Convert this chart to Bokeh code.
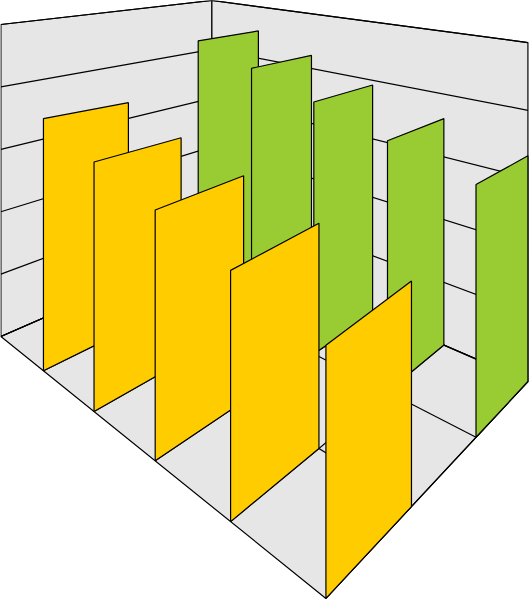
from bokeh.embed import file_html
from bokeh.models import Range1d
from bokeh.plotting import figure
from bokeh.resources import INLINE

# Chart values (no axis labels are drawn in the reference)
categories = [1, 2, 3, 4, 5]
yellow_values = [3.75, 3.42, 3.14, 2.84, 2.55]
green_values = [4.53, 4.24, 3.92, 3.61, 3.33]
value_ticks = [0, 1, 2, 3, 4, 5]
n_categories = 5
depth_edges = [0, 1 / 3, 0.663, 1]

YELLOW = "#FFCC00"
GREEN = "#99CC33"
WALL = "#E6E6E6"
EDGE = "#000000"
LINE_W = 1.2


def project(cat, depth, val):
    """Perspective view of the chart box: cat 0-5, depth 0-1 (front to back), val 0-5."""
    a = cat / n_categories
    w = 1 - 0.3976 * a + 0.2826 * depth
    x = (195.4 * a + 270.9 * depth + 1) / w
    bend = (3.2 * a - 1.4) * 13.5 * depth * (depth - 0.663) * (depth - 1)
    y = (24.2 * a - 23.0 * depth + 336 - val * (62.4 - 2.6 * a + 0.2 * depth + bend)) / w
    return x, y


def panel(cat, d0, d1, val):
    pts = [project(cat, d0, 0), project(cat, d1, 0), project(cat, d1, val), project(cat, d0, val)]
    return [q[0] for q in pts], [q[1] for q in pts]


def seg(p0, p1):
    return [p0[0], p1[0]], [p0[1], p1[1]]


top = value_ticks[-1]

p = figure(width=530, height=600, output_backend="svg", toolbar_location=None,
           x_range=Range1d(0.6, 530.6), y_range=Range1d(600, 0),
           min_border=0, outline_line_color=None, background_fill_color="white",
           margin=(0, 0, 0, 0))
p.axis.visible = False
p.grid.visible = False

# Walls and floor
quads = [
    [(0, 0, 0), (0, 1, 0), (0, 1, top), (0, 0, top)],
    [(0, 1, 0), (n_categories, 1, 0), (n_categories, 1, top), (0, 1, top)],
    [(0, 0, 0), (n_categories, 0, 0), (n_categories, 1, 0), (0, 1, 0)],
]
qx, qy = [], []
for q in quads:
    pts = [project(*c) for c in q]
    qx.append([t[0] for t in pts])
    qy.append([t[1] for t in pts])
p.patches(qx, qy, fill_color=WALL, line_color=EDGE, line_width=LINE_W)

# Grid lines on the walls and the floor
gx, gy = [], []
for v in value_ticks:
    for s in [seg(project(0, 0, v), project(0, 1, v)),
              seg(project(0, 1, v), project(n_categories, 1, v))]:
        gx.append(s[0])
        gy.append(s[1])
for c in range(n_categories + 1):
    s = seg(project(c, 0, 0), project(c, 1, 0))
    gx.append(s[0])
    gy.append(s[1])
for d in depth_edges[1:3]:
    s = seg(project(0, d, 0), project(n_categories, d, 0))
    gx.append(s[0])
    gy.append(s[1])
p.multi_line(gx, gy, line_color=EDGE, line_width=LINE_W)

# Bars, back series first
series = [(GREEN, green_values, depth_edges[2], depth_edges[3]),
          (YELLOW, yellow_values, depth_edges[0], depth_edges[1])]
for color, values, d0, d1 in series:
    xs, ys = [], []
    for c, v in zip(categories, values):
        px, py = panel(c, d0, d1, v)
        xs.append(px)
        ys.append(py)
    p.patches(xs, ys, fill_color=color, line_color=EDGE, line_width=LINE_W)

open("out.html", "w").write(file_html(p, INLINE))
